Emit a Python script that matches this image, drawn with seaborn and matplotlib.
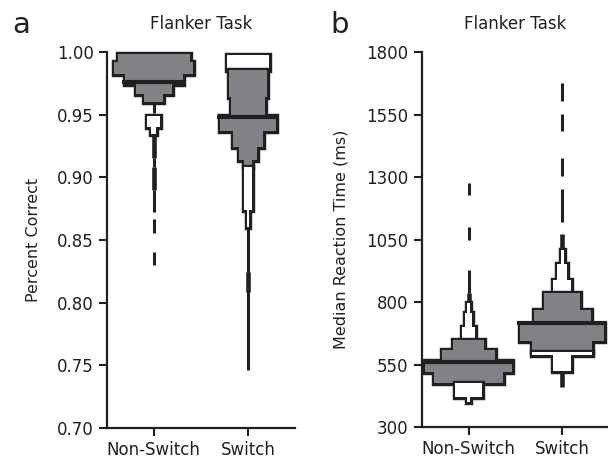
import matplotlib
matplotlib.use("Agg")
import matplotlib.pyplot as plt
import seaborn as sns

# ---------------- data ----------------
groups = ["Non-Switch", "Switch"]

# Panel a: Percent Correct, letter-value boxes listed top to bottom
acc_ns_upper = [0.999, 0.992, 0.983, 0.975, 0.967, 0.949, 0.940]
acc_ns_lower = [0.992, 0.983, 0.975, 0.967, 0.960, 0.940, 0.9345]
acc_ns_width = [0.767, 0.839, 0.618, 0.387, 0.199, 0.134, 0.050]
acc_ns_shade = ["g", "g", "g", "g", "g", "w", "w"]
acc_ns_median = 0.9765
acc_ns_tails = [(0.9515, 0.9600), (0.9086, 0.9155), (0.8726, 0.8900),
                (0.8556, 0.8668), (0.8300, 0.8407)]
acc_ns_thick = [(0.9155, 0.9345), (0.8900, 0.9086)]

acc_sw_upper = [0.998, 0.9859, 0.9643, 0.949, 0.937, 0.9243, 0.914, 0.9084, 0.874]
acc_sw_lower = [0.9859, 0.9643, 0.949, 0.937, 0.9243, 0.914, 0.9084, 0.874, 0.8605]
acc_sw_width = [0.455, 0.412, 0.369, 0.601, 0.327, 0.199, 0.092, 0.081, 0.020]
acc_sw_shade = ["w", "g", "g", "g", "g", "g", "g", "w", "w"]
acc_sw_median = 0.9487
acc_sw_tails = [(0.746, 0.8605)]
acc_sw_thick = [(0.8085, 0.8245)]

acc_ticks = [0.70, 0.75, 0.80, 0.85, 0.90, 0.95, 1.00]

# Panel b: Median Reaction Time (ms)
rt_ns_upper = [796, 756, 702, 649, 609, 565, 522, 476, 422]
rt_ns_lower = [756, 702, 649, 609, 565, 522, 476, 422, 400]
rt_ns_width = [0.030, 0.073, 0.145, 0.333, 0.570, 0.935, 0.740, 0.286, 0.030]
rt_ns_shade = ["w", "w", "w", "g", "g", "g", "g", "w", "w"]
rt_ns_median = 561
rt_ns_tails = [(1229, 1278), (1051, 1101), (836, 929)]
rt_ns_thick = [(796, 836)]

rt_sw_upper = [1009, 955, 889, 836, 769, 715, 646, 602, 589]
rt_sw_lower = [955, 889, 836, 769, 715, 646, 602, 589, 526]
rt_sw_width = [0.030, 0.102, 0.190, 0.386, 0.610, 0.900, 0.645, 0.634, 0.198]
rt_sw_shade = ["w", "w", "w", "g", "g", "g", "g", "w", "w"]
rt_sw_median = 718
rt_sw_tails = [(1606, 1676), (1485, 1553), (1305, 1376), (1122, 1252)]
rt_sw_thick = [(1009, 1075), (462, 526)]

rt_ticks = [300, 550, 800, 1050, 1300, 1550, 1800]

# ---------------- style ----------------
sns.set_style("ticks")
plt.rcParams["font.family"] = ["DejaVu Sans"]
INK = "#231f20"
SHADES = {"g": "#808285", "w": "#ffffff"}
OUT_LW = 3.9


def draw_group(ax, x, upper, lower, width, shade, median, tails, thick, eps):
    for lo, hi in tails:
        ax.plot([x, x], [lo, hi], color=INK, lw=2.2, solid_capstyle="butt", zorder=2)
    for lo, hi in thick:
        ax.plot([x, x], [lo, hi], color=INK, lw=3.3, solid_capstyle="butt", zorder=2)
    n = len(upper)
    i = 0
    z = 3
    while i < n:
        j = i
        while j + 1 < n and shade[j + 1] == shade[i]:
            j += 1
        idx = list(range(i, j + 1))
        bottoms = [lower[k] for k in idx]
        heights = [upper[k] - lower[k] for k in idx]
        widths = [width[k] for k in idx]
        xs = [x] * len(idx)
        ax.bar(xs, heights, width=widths, bottom=bottoms, facecolor="none",
               edgecolor=INK, linewidth=OUT_LW, clip_on=False, zorder=z)
        ax.bar(xs, heights, width=widths, bottom=bottoms,
               facecolor=SHADES[shade[i]], edgecolor="none", linewidth=0,
               clip_on=False, zorder=z + 0.1)
        z += 0.2
        i = j + 1
    mw = max(w for u, l, w in zip(upper, lower, width)
             if l - eps <= median <= u + eps) + 0.055
    ax.plot([x - mw / 2, x + mw / 2], [median, median], color=INK, lw=3.0,
            solid_capstyle="butt", zorder=10)


fig = plt.figure(figsize=(6.08, 4.65), dpi=100)
ax_a = fig.add_axes([0.1755, 0.0802, 0.3097, 0.8073])
ax_b = fig.add_axes([0.6936, 0.0811, 0.3080, 0.8065])

draw_group(ax_a, 0, acc_ns_upper, acc_ns_lower, acc_ns_width, acc_ns_shade,
           acc_ns_median, acc_ns_tails, acc_ns_thick, 0.003)
draw_group(ax_a, 1, acc_sw_upper, acc_sw_lower, acc_sw_width, acc_sw_shade,
           acc_sw_median, acc_sw_tails, acc_sw_thick, 0.003)
draw_group(ax_b, 0, rt_ns_upper, rt_ns_lower, rt_ns_width, rt_ns_shade,
           rt_ns_median, rt_ns_tails, rt_ns_thick, 15)
draw_group(ax_b, 1, rt_sw_upper, rt_sw_lower, rt_sw_width, rt_sw_shade,
           rt_sw_median, rt_sw_tails, rt_sw_thick, 15)

ax_a.set_ylim(0.70, 1.00)
ax_a.set_yticks(acc_ticks, [f"{t:.2f}" for t in acc_ticks])
ax_a.set_ylabel("Percent Correct", fontsize=11.5, color=INK)
ax_b.set_ylim(300, 1800)
ax_b.set_yticks(rt_ticks, [str(t) for t in rt_ticks])
ax_b.set_ylabel("Median Reaction Time (ms)", fontsize=11.5, color=INK)

for ax in (ax_a, ax_b):
    ax.set_xlim(-0.5, 1.5)
    ax.set_xticks([0, 1], groups)
    sns.despine(ax=ax)
    for s in ("left", "bottom"):
        ax.spines[s].set_linewidth(1.6)
        ax.spines[s].set_color(INK)
    ax.tick_params(direction="out", length=6, width=1.5, colors=INK,
                   labelsize=12, labelcolor=INK)
    ax.set_title("Flanker Task", fontsize=12, pad=17, color=INK)

ax_a.yaxis.set_label_coords(-0.35, 0.5)
ax_b.yaxis.set_label_coords(-0.39, 0.5)

fig.text(0.02, 0.929, "a", fontsize=21, color=INK, va="baseline")
fig.text(0.543, 0.929, "b", fontsize=21, color=INK, va="baseline")

fig.savefig("out.png", dpi=100)
